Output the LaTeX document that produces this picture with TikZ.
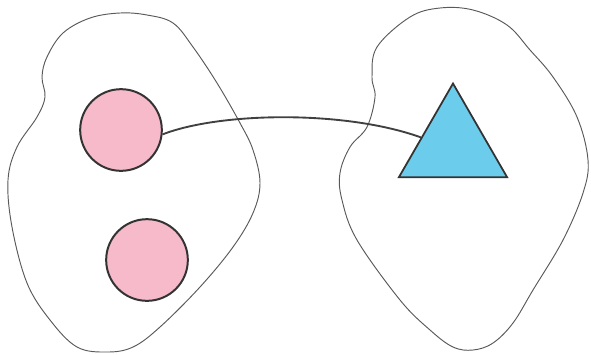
\documentclass[tikz,border=0pt]{standalone}
\usepackage{xcolor}
\usepackage{tikz}
\usetikzlibrary{shapes.geometric}

\definecolor{dotpink}{RGB}{246,186,202}
\definecolor{tribluefill}{RGB}{108,204,236}

\begin{document}
\begin{tikzpicture}[x=0.03cm, y=-0.03cm,
  blob/.style={draw=black!65, line width=0.8pt, smooth cycle, tension=0.6},
  dot/.style={circle, draw=black!80, line width=1.7pt, fill=dotpink, minimum size=2.45cm, inner sep=0pt},
  tri/.style={regular polygon, regular polygon sides=3, draw=black!80, line width=1.5pt, fill=tribluefill, minimum size=3.75cm, inner sep=0pt},
  link/.style={draw=black!75, line width=1.6pt}]
\useasboundingbox (0,0) rectangle (591,354);
% the two regions
\draw[blob] plot coordinates {(120,13) (147,15) (173,23) (193,47) (217,83) (240,123) (253,150)
  (260,183) (253,213) (233,247) (200,287) (160,327) (133,347) (107,352) (77,347) (50,320)
  (27,283) (12,227) (8,180) (17,147) (37,117) (45,97) (42,77) (47,57) (63,33) (90,18)};
\draw[blob] plot coordinates {(440,8) (473,10) (507,25) (530,50) (553,77) (577,117) (588,160)
  (583,193) (563,240) (533,290) (513,323) (493,343) (473,350) (453,347) (430,330) (400,300)
  (357,240) (342,200) (340,173) (350,147) (367,127) (375,97) (372,77) (377,47) (410,17)};
% elements
\node[dot] (upper) at (121,130) {};
\node[dot] (lower) at (147,260) {};
\node[tri] (target) at (453,146) {};
\draw[link] (upper.-6) .. controls (220,112) and (345,110) .. (target.165);
\end{tikzpicture}
\end{document}
